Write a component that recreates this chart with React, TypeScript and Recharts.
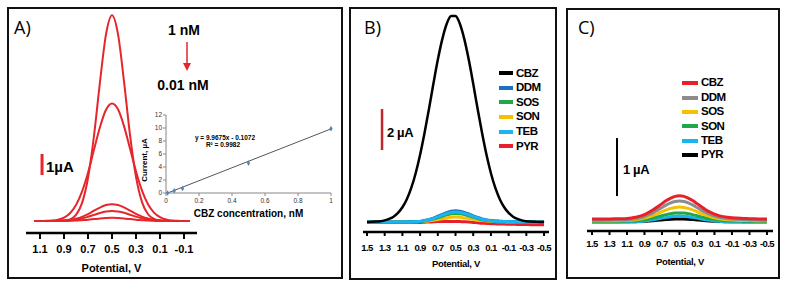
import React from 'react';
import { LineChart, Line, XAxis, YAxis, ReferenceLine, Legend, ComposedChart, Scatter, ZAxis } from 'recharts';

const SANS = "'Liberation Sans', Arial, sans-serif";
const NARROW = "'Liberation Sans Narrow', 'Arial Narrow', 'Liberation Sans', Arial, sans-serif";
const HUMAN = "'Open Sans', 'Noto Sans', sans-serif";

// ---- Panel A: DPV curves, 1 nM -> 0.01 nM ----
const A_POTENTIAL = [1.15, 1.1, 1.05, 1.0, 0.95, 0.9, 0.85, 0.8, 0.75, 0.7, 0.65, 0.6, 0.55, 0.5, 0.45, 0.4, 0.35, 0.3, 0.25, 0.2, 0.15, 0.1, 0.05, 0, -0.05, -0.1, -0.15];
const A_1NM = [0, 0, 0, 0, 0, 0.02, 0.08, 0.29, 0.85, 2.05, 4.06, 6.63, 8.89, 9.8, 8.9, 6.65, 4.1, 2.1, 0.9, 0.32, 0.1, 0.03, 0, 0, 0, 0, 0];
const A_05NM = [0, 0, 0.01, 0.02, 0.06, 0.16, 0.37, 0.76, 1.4, 2.3, 3.4, 4.48, 5.3, 5.6, 5.32, 4.52, 3.45, 2.36, 1.45, 0.8, 0.4, 0.18, 0.07, 0.02, 0.01, 0, 0];
const A_01NM = [0, 0, 0, 0, 0.01, 0.02, 0.05, 0.11, 0.2, 0.33, 0.49, 0.64, 0.76, 0.8, 0.76, 0.65, 0.5, 0.34, 0.21, 0.12, 0.06, 0.03, 0.01, 0, 0, 0, 0];
const A_005NM = [0, 0, 0, 0, 0.01, 0.01, 0.03, 0.07, 0.12, 0.2, 0.29, 0.38, 0.45, 0.48, 0.45, 0.39, 0.3, 0.21, 0.13, 0.07, 0.04, 0.02, 0.01, 0, 0, 0, 0];
const A_001NM = [0, 0, 0, 0, 0, 0, 0.01, 0.02, 0.04, 0.06, 0.09, 0.12, 0.14, 0.15, 0.14, 0.12, 0.09, 0.06, 0.04, 0.02, 0.01, 0, 0, 0, 0, 0, 0];
const A_KEYS = ['n1', 'n05', 'n01', 'n005', 'n001'];
const A_SERIES = [A_1NM, A_05NM, A_01NM, A_005NM, A_001NM];
const A_TICKS = [1.1, 0.9, 0.7, 0.5, 0.3, 0.1, -0.1];

// inset calibration
const CAL_CONC = [0.01, 0.05, 0.1, 0.5, 1];
const CAL_CURRENT = [0, 0.35, 0.7, 4.6, 9.9];
const TREND_CONC = [0.01, 1];
const TREND_CURRENT = [0, 9.86];
const CAL_X_TICKS = [0, 0.2, 0.4, 0.6, 0.8, 1];
const CAL_Y_TICKS = [0, 2, 4, 6, 8, 10, 12];

// ---- Panels B and C: selectivity scans ----
const SCAN_POTENTIAL = [1.5, 1.45, 1.4, 1.35, 1.3, 1.25, 1.2, 1.15, 1.1, 1.05, 1.0, 0.95, 0.9, 0.85, 0.8, 0.75, 0.7, 0.65, 0.6, 0.55, 0.5, 0.45, 0.4, 0.35, 0.3, 0.25, 0.2, 0.15, 0.1, 0.05, 0, -0.05, -0.1, -0.15, -0.2, -0.25, -0.3, -0.35, -0.4, -0.45, -0.5];
const SCAN_TICKS = [1.5, 1.3, 1.1, 0.9, 0.7, 0.5, 0.3, 0.1, -0.1, -0.3, -0.5];

const B_CBZ = [0, 0.01, 0.02, 0.04, 0.08, 0.15, 0.26, 0.44, 0.72, 1.11, 1.66, 2.38, 3.28, 4.34, 5.51, 6.74, 7.91, 8.91, 9.66, 10.05, 10.05, 9.66, 8.91, 7.91, 6.74, 5.51, 4.34, 3.28, 2.38, 1.66, 1.11, 0.72, 0.44, 0.26, 0.15, 0.08, 0.04, 0.02, 0.01, 0, 0];
const B_DDM = [0, 0, 0, 0, 0, 0, 0, 0, 0, 0.005, 0.01, 0.02, 0.03, 0.07, 0.12, 0.19, 0.28, 0.37, 0.46, 0.53, 0.55, 0.53, 0.47, 0.39, 0.3, 0.22, 0.15, 0.1, 0.07, 0.05, 0.04, 0.03, 0.02, 0.02, 0.01, 0.01, 0, 0, 0, 0, 0];
const B_SOS = [0, 0, 0, 0, 0, 0, 0, 0, 0, 0, 0.01, 0.02, 0.03, 0.05, 0.09, 0.15, 0.21, 0.28, 0.35, 0.4, 0.42, 0.4, 0.36, 0.3, 0.23, 0.17, 0.11, 0.08, 0.05, 0.04, 0.03, 0.02, 0.02, 0.01, 0.01, 0, 0, 0, 0, 0, 0];
const B_SON = [0, 0, 0, 0, 0, 0, 0, 0, 0, 0, 0, 0.01, 0.02, 0.03, 0.05, 0.08, 0.12, 0.16, 0.2, 0.23, 0.24, 0.23, 0.2, 0.17, 0.13, 0.1, 0.07, 0.05, 0.03, 0.02, 0.01, 0.01, 0, 0, 0, 0, 0, 0, 0, 0, 0];
const B_TEB = [0, 0, 0, 0, 0, 0, 0, 0, 0, 0, 0.01, 0.02, 0.03, 0.06, 0.11, 0.17, 0.25, 0.33, 0.41, 0.47, 0.49, 0.47, 0.42, 0.35, 0.27, 0.2, 0.13, 0.09, 0.06, 0.04, 0.03, 0.02, 0.02, 0.01, 0.01, 0, 0, 0, 0, 0, 0];
const B_PYR = [-0.02, -0.02, -0.02, -0.02, -0.02, -0.02, -0.02, -0.02, -0.02, -0.02, -0.02, -0.02, -0.02, -0.01, 0, 0.01, 0.02, 0.03, 0.03, 0.03, 0.03, 0.02, 0.01, 0, -0.02, -0.04, -0.06, -0.07, -0.08, -0.09, -0.1, -0.1, -0.11, -0.11, -0.12, -0.12, -0.12, -0.13, -0.13, -0.13, -0.13];
const B_NAMES = ['CBZ', 'DDM', 'SOS', 'SON', 'TEB', 'PYR'];
const B_COLORS = ['#000000', '#1f6fc0', '#1fa84a', '#f5c000', '#1ab4ee', '#e8202a'];
const B_SERIES = [B_CBZ, B_DDM, B_SOS, B_SON, B_TEB, B_PYR];
const B_DRAW_ORDER = ['PYR', 'SON', 'SOS', 'DDM', 'TEB', 'CBZ'];

const C_CBZ = [0.035, 0.035, 0.035, 0.035, 0.036, 0.037, 0.037, 0.04, 0.045, 0.053, 0.065, 0.084, 0.111, 0.148, 0.193, 0.245, 0.3, 0.352, 0.396, 0.425, 0.435, 0.425, 0.396, 0.352, 0.3, 0.245, 0.195, 0.152, 0.118, 0.092, 0.075, 0.063, 0.055, 0.05, 0.046, 0.043, 0.04, 0.038, 0.036, 0.035, 0.034];
const C_DDM = [0.015, 0.015, 0.015, 0.015, 0.016, 0.016, 0.017, 0.019, 0.023, 0.03, 0.04, 0.056, 0.078, 0.108, 0.145, 0.188, 0.233, 0.277, 0.313, 0.337, 0.345, 0.337, 0.313, 0.277, 0.233, 0.188, 0.148, 0.113, 0.085, 0.064, 0.05, 0.04, 0.033, 0.028, 0.024, 0.021, 0.019, 0.017, 0.016, 0.015, 0.015];
const C_SOS = [0.005, 0.005, 0.005, 0.005, 0.005, 0.006, 0.006, 0.008, 0.011, 0.015, 0.023, 0.034, 0.05, 0.071, 0.098, 0.128, 0.161, 0.191, 0.217, 0.234, 0.24, 0.234, 0.217, 0.191, 0.161, 0.128, 0.1, 0.075, 0.055, 0.04, 0.03, 0.022, 0.017, 0.013, 0.01, 0.008, 0.007, 0.006, 0.005, 0.005, 0.005];
const C_SON = [-0.005, -0.005, -0.005, -0.005, -0.005, -0.005, -0.004, -0.003, -0.002, 0.001, 0.006, 0.013, 0.023, 0.036, 0.052, 0.071, 0.091, 0.11, 0.126, 0.136, 0.14, 0.136, 0.126, 0.11, 0.091, 0.071, 0.053, 0.038, 0.026, 0.017, 0.01, 0.005, 0.002, 0, -0.002, -0.003, -0.004, -0.005, -0.005, -0.005, -0.005];
const C_TEB = [-0.02, -0.02, -0.02, -0.02, -0.02, -0.02, -0.02, -0.019, -0.017, -0.015, -0.012, -0.007, 0, 0.01, 0.021, 0.035, 0.05, 0.063, 0.075, 0.082, 0.085, 0.082, 0.075, 0.063, 0.05, 0.035, 0.022, 0.011, 0.002, -0.005, -0.01, -0.014, -0.016, -0.018, -0.019, -0.02, -0.02, -0.02, -0.02, -0.02, -0.02];
const C_PYR = [-0.015, -0.015, -0.015, -0.015, -0.015, -0.015, -0.015, -0.015, -0.015, -0.015, -0.011, -0.009, -0.005, -0.001, 0.005, 0.011, 0.018, 0.025, 0.03, 0.034, 0.035, 0.034, 0.03, 0.025, 0.018, 0.011, 0.005, -0.001, -0.005, -0.009, -0.011, -0.013, -0.014, -0.015, -0.015, -0.015, -0.015, -0.015, -0.015, -0.015, -0.015];
const C_NAMES = ['CBZ', 'DDM', 'SOS', 'SON', 'TEB', 'PYR'];
const C_COLORS = ['#e8202a', '#8c8c8c', '#f5c000', '#1fa84a', '#1ab4ee', '#000000'];
const C_SERIES = [C_CBZ, C_DDM, C_SOS, C_SON, C_TEB, C_PYR];
const C_DRAW_ORDER = ['PYR', 'TEB', 'SON', 'SOS', 'DDM', 'CBZ'];

function toRows(potentials: number[], keys: string[], series: number[][]) {
  return potentials.map((v, i) => {
    const row: any = { v };
    keys.forEach((k, j) => { row[k] = series[j][i]; });
    return row;
  });
}

const aRows = toRows(A_POTENTIAL, A_KEYS, A_SERIES);
const bRows = toRows(SCAN_POTENTIAL, B_NAMES, B_SERIES);
const cRows = toRows(SCAN_POTENTIAL, C_NAMES, C_SERIES);
const calRows = CAL_CONC.map((x, i) => ({ x, y: CAL_CURRENT[i] }));
const trendRows = TREND_CONC.map((x, i) => ({ x, y: TREND_CURRENT[i] }));

const Note = ({ x, y, size, bold = true, center = false, family = SANS, color = '#000', rotate = 0, spacing = 0, children }: any) => (
  <div style={{
    position: 'absolute', left: x, top: y, fontSize: size, fontWeight: bold ? 'bold' : 'normal',
    fontFamily: family, color, lineHeight: 1, whiteSpace: 'nowrap', letterSpacing: spacing,
    transform: `translate(${center ? '-50%' : '0'}, -50%)${rotate ? ` rotate(${rotate}deg)` : ''}`,
  }}>{children}</div>
);

const Frame = ({ x, y, w, h }: any) => (
  <div style={{ position: 'absolute', left: x, top: y, width: w, height: h, border: '2px solid #111', boxSizing: 'border-box' }} />
);

const SwatchLegend = ({ names, colors, swatch, row }: any) => (
  <div style={{ fontFamily: NARROW, fontWeight: 'bold', fontSize: 11.5, letterSpacing: -0.5, color: '#000' }}>
    {names.map((n: string, k: number) => (
      <div key={n} style={{ display: 'flex', alignItems: 'center', height: row }}>
        <span style={{ display: 'inline-block', width: swatch, height: 4, background: colors[k], marginRight: 3 }} />
        <span style={{ lineHeight: 1 }}>{n}</span>
      </div>
    ))}
  </div>
);

const potentialAxis = (ticks: number[], domain: number[], height: number, font: number, family: string, tickSize: number, tickMargin: number, labelOffset: number, spacing: number) => (
  <XAxis
    type="number" dataKey="v" domain={domain} reversed allowDataOverflow ticks={ticks} interval={0}
    height={height} tickSize={tickSize} tickMargin={tickMargin}
    axisLine={{ stroke: '#000', strokeWidth: 2.5 }} tickLine={{ stroke: '#000', strokeWidth: 2 }}
    tick={{ fill: '#000', fontSize: font, fontWeight: 'bold', fontFamily: family, letterSpacing: spacing }}
    label={{ value: 'Potential, V', position: 'insideBottom', offset: labelOffset, fill: '#000', fontSize: font, fontWeight: 'bold', fontFamily: family, letterSpacing: spacing / 2 }}
  />
);

export default function App() {
  return (
    <div style={{ position: 'absolute', left: 0, top: 0, width: 786, height: 286, background: '#fff', overflow: 'hidden' }}>
      <Frame x={7} y={7} w={336} h={272} />
      <Frame x={349} y={7} w={208} h={273} />
      <Frame x={566} y={8} w={214} h={271} />

      {/* A) main curves */}
      <div style={{ position: 'absolute', left: 0, top: 0 }}>
        <LineChart width={343} height={286} data={aRows} margin={{ top: 10, right: 146, bottom: 0, left: 26 }}>
          {potentialAxis(A_TICKS, [-0.2083, 1.2167], 53, 11, SANS, 6, 6, 14, 0)}
          <YAxis hide type="number" domain={[-0.571, 10.048]} allowDataOverflow />
          {A_KEYS.map(k => (
            <Line key={k} type="monotone" dataKey={k} stroke="#e5262b" strokeWidth={2} dot={false} isAnimationActive={false} />
          ))}
          <ReferenceLine segment={[{ x: 1.083, y: 2.19 }, { x: 1.083, y: 3.19 }]} stroke="#e5262b" strokeWidth={3} />
        </LineChart>
      </div>

      {/* A) inset calibration */}
      <div style={{ position: 'absolute', left: 130, top: 105 }}>
        <ComposedChart width={215} height={120} margin={{ top: 10, right: 14, bottom: 0, left: 0 }}>
          <XAxis
            type="number" dataKey="x" domain={[0, 1]} ticks={CAL_X_TICKS} interval={0} height={32}
            tickSize={3} tickMargin={2} axisLine={{ stroke: '#888' }} tickLine={{ stroke: '#888' }}
            tick={{ fill: '#333', fontSize: 6.5, fontFamily: SANS }}
            label={{ value: 'CBZ concentration, nM', position: 'insideBottom', offset: 8, fill: '#000', fontSize: 10, fontWeight: 'bold', fontFamily: SANS }}
          />
          <YAxis
            type="number" dataKey="y" domain={[0, 12]} ticks={CAL_Y_TICKS} interval={0} width={36}
            tickSize={3} tickMargin={1} axisLine={{ stroke: '#888' }} tickLine={{ stroke: '#888' }}
            tick={{ fill: '#333', fontSize: 6.5, fontFamily: SANS }}
          />
          <ZAxis range={[9, 9]} />
          <Line data={trendRows} dataKey="y" stroke="#555" strokeWidth={1} dot={false} isAnimationActive={false} />
          <Scatter data={calRows} dataKey="y" fill="#4f81bd" shape="diamond" isAnimationActive={false} />
        </ComposedChart>
      </div>

      <Note x={14} y={27} size={18} bold={false} family={HUMAN}>A)</Note>
      <Note x={184} y={30} size={14} center>1 nM</Note>
      <svg style={{ position: 'absolute', left: 180, top: 40 }} width={14} height={34}>
        <line x1={7} y1={2} x2={7} y2={24} stroke="#e5262b" strokeWidth={1.5} />
        <polygon points="3,23 11,23 7,31" fill="#e5262b" />
      </svg>
      <Note x={183} y={85} size={14} center>0.01 nM</Note>
      <Note x={46} y={166} size={15}>1µA</Note>
      <Note x={225} y={138} size={6.5} center>y = 9.9675x - 0.1072</Note>
      <Note x={223} y={145} size={6.5} center>R² = 0.9982</Note>
      <Note x={145} y={160} size={8} center rotate={-90}>Current, µA</Note>

      {/* B) */}
      <div style={{ position: 'absolute', left: 349, top: 0 }}>
        <LineChart width={208} height={286} data={bRows} margin={{ top: 10, right: 8, bottom: 0, left: 14 }}>
          {potentialAxis(SCAN_TICKS, [-0.556, 1.545], 54, 9.5, NARROW, 4, 8, 19.5, -0.6)}
          <YAxis hide type="number" domain={[-0.488, 10.341]} allowDataOverflow />
          {B_DRAW_ORDER.map(n => (
            <Line key={n} type="monotone" dataKey={n} stroke={B_COLORS[B_NAMES.indexOf(n)]} strokeWidth={n === 'CBZ' ? 2.5 : 3} dot={false} isAnimationActive={false} />
          ))}
          <ReferenceLine segment={[{ x: 1.33, y: 3.51 }, { x: 1.33, y: 5.51 }]} stroke="#c0282d" strokeWidth={2.5} />
          <Legend layout="vertical" align="center" verticalAlign="middle"
            wrapperStyle={{ left: 150, top: 66, width: 55, height: 90 }}
            content={() => <SwatchLegend names={B_NAMES} colors={B_COLORS} swatch={14} row={14.6} />} />
        </LineChart>
      </div>
      <Note x={364} y={27} size={18} bold={false} family={HUMAN}>B)</Note>
      <Note x={387} y={132} size={13} spacing={-0.4}>2 µA</Note>

      {/* C) */}
      <div style={{ position: 'absolute', left: 566, top: 0 }}>
        <LineChart width={214} height={286} data={cRows} margin={{ top: 10, right: 7, bottom: 0, left: 21 }}>
          {potentialAxis(SCAN_TICKS, [-0.569, 1.557], 55, 9.5, NARROW, 4, 5, 21.5, -0.6)}
          <YAxis hide type="number" domain={[-0.1724, 3.638]} allowDataOverflow />
          {C_DRAW_ORDER.map(n => (
            <Line key={n} type="monotone" dataKey={n} stroke={C_COLORS[C_NAMES.indexOf(n)]} strokeWidth={3} dot={false} isAnimationActive={false} />
          ))}
          <ReferenceLine segment={[{ x: 1.214, y: 0.43 }, { x: 1.214, y: 1.43 }]} stroke="#000" strokeWidth={2} />
          <Legend layout="vertical" align="center" verticalAlign="middle"
            wrapperStyle={{ left: 116, top: 76, width: 60, height: 90 }}
            content={() => <SwatchLegend names={C_NAMES} colors={C_COLORS} swatch={16} row={14.4} />} />
        </LineChart>
      </div>
      <Note x={578} y={27} size={18} bold={false} family={HUMAN}>C)</Note>
      <Note x={623} y={169} size={13} spacing={-0.4}>1 µA</Note>
    </div>
  );
}
